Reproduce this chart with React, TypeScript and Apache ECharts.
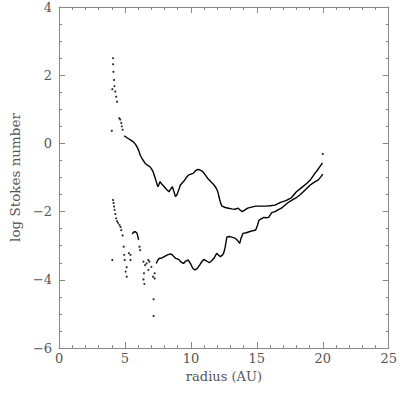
import React, { useEffect, useRef } from "react";
import * as echarts from "echarts";

// x ticks / y ticks
const xTicks = { min: 0, max: 25, step: 5 };
const yTicks = { min: -6, max: 4, step: 2 };

// Upper curve: sparse dots near 4 AU
const upperDots: number[][] = [
  [4.09, 2.5], [4.1, 2.32], [4.12, 2.1], [4.17, 1.86], [4.04, 1.59], [4.2, 1.68],
  [4.26, 1.52], [4.33, 1.37], [4.4, 1.22], [4.57, 0.74], [4.64, 0.7], [4.72, 0.6],
  [4.76, 0.5], [4.82, 0.4], [4.0, 0.37],
];

// Upper curve: dense part
const upperLine: number[][] = [
  [4.94, 0.22], [5.1, 0.18], [5.3, 0.13], [5.5, 0.08], [5.67, 0.03], [5.8, -0.03],
  [5.91, -0.1], [6.05, -0.22], [6.15, -0.34], [6.3, -0.45], [6.52, -0.58], [6.7, -0.64],
  [6.88, -0.68], [7.0, -0.74], [7.13, -0.83], [7.25, -0.97], [7.37, -1.12], [7.49, -1.27],
  [7.58, -1.2], [7.66, -1.12], [7.8, -1.2], [7.98, -1.27], [8.15, -1.35], [8.34, -1.42],
  [8.45, -1.35], [8.59, -1.27], [8.7, -1.4], [8.83, -1.56], [8.95, -1.5], [9.07, -1.37],
  [9.2, -1.22], [9.44, -1.12], [9.6, -1.03], [9.8, -0.93], [10.0, -0.9], [10.17, -0.88],
  [10.35, -0.8], [10.53, -0.76], [10.7, -0.78], [10.9, -0.83], [11.1, -0.93], [11.26, -1.02],
  [11.5, -1.12], [11.75, -1.22], [11.9, -1.3], [12.04, -1.42], [12.12, -1.55], [12.19, -1.66],
  [12.28, -1.78], [12.36, -1.84], [12.6, -1.88], [12.85, -1.9], [13.1, -1.92], [13.33, -1.93],
  [13.58, -1.9], [13.75, -1.96], [13.89, -2.0], [14.1, -1.95], [14.31, -1.9], [14.6, -1.87],
  [14.91, -1.84], [15.3, -1.84], [15.64, -1.84], [16.0, -1.83], [16.37, -1.81], [16.8, -1.73],
  [17.2, -1.68], [17.6, -1.6], [18.0, -1.42], [18.32, -1.32], [18.8, -1.17], [19.1, -1.05],
  [19.4, -0.88], [19.6, -0.78], [19.78, -0.68], [19.98, -0.57],
];
const upperEnd: number[][] = [[20.0, -0.31]];

// Lower curve: dotted start
const lowerDots: number[][] = [
  [4.09, -1.66], [4.13, -1.75], [4.17, -1.85], [4.21, -1.95], [4.27, -2.07], [4.33, -2.2],
  [4.4, -2.28], [4.47, -2.33], [4.58, -2.39], [4.66, -2.45], [4.72, -2.54], [4.82, -2.7],
];

// Lower curve: scattered region 4-7.5 AU
const lowerScatter: number[][] = [
  [4.04, -3.42], [4.9, -3.03], [4.94, -3.27], [4.98, -3.42], [5.13, -3.63], [5.05, -3.76],
  [5.13, -3.91], [5.3, -3.22], [5.42, -3.27], [5.42, -3.42], [6.1, -3.03], [6.15, -3.13],
  [6.4, -3.47], [6.52, -3.57], [6.44, -3.81], [6.4, -3.99], [6.47, -4.12], [6.64, -3.52],
  [6.77, -3.42], [6.85, -3.47], [6.77, -3.71], [7.0, -3.62], [7.13, -3.91], [7.25, -3.96],
  [7.25, -3.81], [7.17, -4.57], [7.17, -5.06],
];

// Lower curve: small arc near 5.7 AU
const lowerBump: number[][] = [
  [5.55, -2.66], [5.65, -2.6], [5.79, -2.59], [5.9, -2.63], [5.95, -2.69], [6.03, -2.83],
];

// Lower curve: dense part
const lowerLine: number[][] = [
  [7.37, -3.52], [7.49, -3.42], [7.61, -3.37], [7.8, -3.36], [7.98, -3.32], [8.22, -3.27],
  [8.47, -3.24], [8.59, -3.27], [8.71, -3.32], [8.83, -3.37], [9.07, -3.4], [9.25, -3.48],
  [9.44, -3.52], [9.6, -3.45], [9.8, -3.42], [10.0, -3.55], [10.15, -3.67], [10.29, -3.71],
  [10.45, -3.68], [10.66, -3.57], [10.8, -3.48], [10.97, -3.4], [11.2, -3.45], [11.39, -3.5],
  [11.55, -3.45], [11.75, -3.37], [11.95, -3.22], [12.1, -3.28], [12.24, -3.32], [12.4, -3.27],
  [12.48, -3.22], [12.55, -3.12], [12.6, -3.03], [12.66, -2.9], [12.72, -2.75], [12.9, -2.73],
  [13.09, -2.75], [13.33, -2.78], [13.45, -2.81], [13.6, -2.88], [13.7, -2.93], [13.8, -2.78],
  [13.94, -2.64], [14.2, -2.62], [14.42, -2.59], [14.7, -2.56], [14.91, -2.54], [15.05, -2.4],
  [15.16, -2.25], [15.4, -2.2], [15.52, -2.17], [15.7, -2.18], [15.89, -2.17], [16.13, -2.03],
  [16.37, -2.0], [16.6, -1.95], [16.86, -1.9], [17.1, -1.82], [17.35, -1.74], [17.6, -1.68],
  [17.96, -1.6], [18.3, -1.5], [18.7, -1.35], [19.05, -1.22], [19.3, -1.15], [19.66, -1.07],
  [19.85, -0.98], [20.0, -0.9],
];

const FONT = "DejaVu Serif";
const AXIS_COLOR = "#888";
const TEXT_COLOR = "#555";
const minus = (v: number) => String(v).replace("-", "\u2212");

function makeX(pos: "bottom" | "top") {
  return {
    type: "value",
    position: pos,
    min: xTicks.min,
    max: xTicks.max,
    interval: xTicks.step,
    name: pos === "bottom" ? "radius (AU)" : "",
    nameLocation: "middle",
    nameGap: 22,
    nameTextStyle: { fontFamily: FONT, fontSize: 13, color: TEXT_COLOR },
    axisLine: { show: true, onZero: false, lineStyle: { color: AXIS_COLOR, width: 1 } },
    axisTick: { show: true, inside: true, length: 6, lineStyle: { color: AXIS_COLOR } },
    minorTick: { show: true, splitNumber: 5, length: 3, lineStyle: { color: AXIS_COLOR } },
    axisLabel: {
      show: pos === "bottom",
      margin: 4,
      fontFamily: FONT,
      fontSize: 13,
      color: TEXT_COLOR,
      formatter: minus,
    },
    splitLine: { show: false },
    minorSplitLine: { show: false },
  };
}

function makeY(pos: "left" | "right") {
  return {
    type: "value",
    position: pos,
    min: yTicks.min,
    max: yTicks.max,
    interval: yTicks.step,
    name: pos === "left" ? "log Stokes number" : "",
    nameLocation: "middle",
    nameGap: 35,
    nameTextStyle: { fontFamily: FONT, fontSize: 13.5, color: TEXT_COLOR },
    axisLine: { show: true, onZero: false, lineStyle: { color: AXIS_COLOR, width: 1 } },
    axisTick: { show: true, inside: true, length: 6, lineStyle: { color: AXIS_COLOR } },
    minorTick: { show: true, splitNumber: 4, length: 3, lineStyle: { color: AXIS_COLOR } },
    axisLabel: {
      show: pos === "left",
      margin: 7,
      fontFamily: FONT,
      fontSize: 13,
      color: TEXT_COLOR,
      formatter: minus,
    },
    splitLine: { show: false },
    minorSplitLine: { show: false },
  };
}

const dots = (data: number[][]) => ({
  type: "scatter",
  data,
  symbol: "circle",
  symbolSize: 2.2,
  itemStyle: { color: "#000" },
  xAxisIndex: 0,
  yAxisIndex: 0,
});

const line = (data: number[][]) => ({
  type: "line",
  data,
  showSymbol: false,
  symbol: "none",
  lineStyle: { color: "#000", width: 1.4 },
  xAxisIndex: 0,
  yAxisIndex: 0,
});

export default function App() {
  const ref = useRef<HTMLDivElement>(null);
  useEffect(() => {
    const chart = echarts.init(ref.current!, null, { renderer: "svg" });
    chart.setOption({
      animation: false,
      backgroundColor: "#fff",
      grid: { left: 49, right: 8, top: 7, bottom: 51, containLabel: false },
      xAxis: [makeX("bottom"), makeX("top")],
      yAxis: [makeY("left"), makeY("right")],
      series: [
        dots(upperDots),
        line(upperLine),
        dots(upperEnd),
        dots(lowerDots),
        dots(lowerScatter),
        line(lowerBump),
        line(lowerLine),
      ],
    });
    return () => chart.dispose();
  }, []);
  return (
    <div
      ref={ref}
      style={{ position: "absolute", left: 0, top: 0, width: 400, height: 399 }}
    />
  );
}
